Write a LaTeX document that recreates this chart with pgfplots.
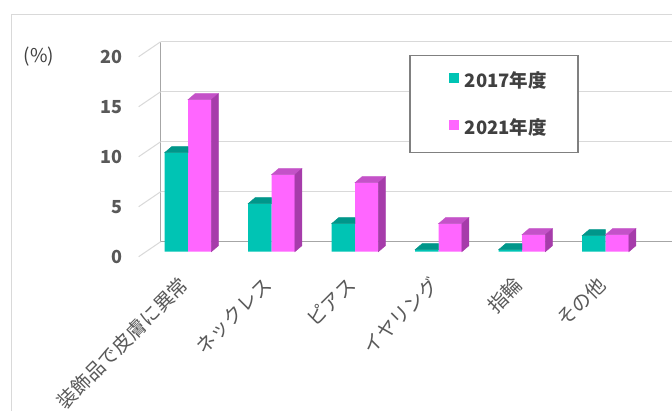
\documentclass[border=0pt]{standalone}
\usepackage{fontspec}
\setmainfont{Noto Sans CJK JP}
\usepackage{pgfplots}
\usepackage{pgfplotstable}
\pgfplotsset{compat=1.18}

\definecolor{c17}{HTML}{00C4B4}
\definecolor{c17top}{HTML}{00968A}
\definecolor{c21}{HTML}{FF66FF}
\definecolor{c21top}{HTML}{C452C8}
\definecolor{c21side}{HTML}{A63CAA}
\definecolor{gridc}{HTML}{D9D9D9}
\definecolor{wallc}{HTML}{A6A6A6}
\definecolor{txt}{HTML}{595959}
\definecolor{txtd}{HTML}{404040}

\pgfplotstableread{
x y17 y21
0 9.9 15.2
1 4.8 7.7
2 2.8 6.9
3 0.2 2.8
4 0.2 1.7
5 1.6 1.7
}\datatab

\pgfdeclareplotmark{nothing}{}
\newcommand\fs[1]{\fontsize{#1}{#1}\selectfont}

% top and side faces of the bars, drawn at the data point (group centre, bar top);
% meta 0..20 maps to 0..1000, bar height in pt = transformed/5
\pgfplotsset{
  faces17/.style={forget plot, scatter, only marks, mark=nothing, point meta=y,
    scatter/@pre marker code/.code={\scope
      \fill[c17top] (-23.4pt,0pt) -- (0pt,0pt) -- (0pt,6pt) -- (-16.4pt,6pt) -- cycle;},
    scatter/@post marker code/.code={\endscope}},
  faces21/.style={forget plot, scatter, only marks, mark=nothing, point meta=y,
    scatter/@pre marker code/.code={\scope
      \pgfmathsetmacro\barh{\pgfplotspointmetatransformed/5}
      \fill[c21top] (0pt,0pt) -- (23.4pt,0pt) -- (30.4pt,6pt) -- (7pt,6pt) -- cycle;
      \fill[c21side] (23.4pt,0pt) -- (23.4pt,-\barh pt) -- (30.4pt,6pt-\barh pt) -- (30.4pt,6pt) -- cycle;},
    scatter/@post marker code/.code={\endscope}},
  legsq/.style={legend image code/.code={\path (0pt,2pt);
      \fill[#1] (11pt,-2.5pt) rectangle (21pt,7.5pt);}},
}

\begin{document}
\begin{tikzpicture}[x=1pt,y=1pt]
\useasboundingbox (0,0) rectangle (672,411);
\clip (0,0) rectangle (672,411);
\fill[white] (0,0) rectangle (672,411);
\draw[gridc, line width=1pt] (11,0) -- (11,396) -- (672,396);
\node[font=\fs{19}, text=txtd] at (39,354) {(\%)};

% back wall with grid
\begin{axis}[at={(160.7pt,169.3pt)}, anchor=south west, scale only axis,
  width=520pt, height=200pt,
  xmin=0, xmax=1, ymin=0, ymax=20, xtick=\empty, ytick={0,5,...,20},
  axis lines*=left, axis line style={wallc, line width=1.2pt},
  ymajorgrids, grid style={gridc, line width=1.2pt},
  major tick length=0pt,
  /pgf/number format/assume math mode=true,
  yticklabel style={font=\fs{18}\bfseries, text=txt, inner sep=0pt, xshift=-38pt, yshift=-15pt},
]
\end{axis}
\foreach \k in {0,...,4}
  \draw[gridc, line width=1pt] (160.7,{169.3+50*\k}) -- ++(-22,-15);

% bars
\begin{axis}[at={(146.25pt,159.3pt)}, anchor=south west, scale only axis,
  width=501pt, height=200pt,
  xmin=-0.5, xmax=5.5, ymin=0, ymax=20, clip=false,
  point meta min=0, point meta max=20,
  axis line style={draw=none}, ytick=\empty, major tick length=0pt,
  xtick={0,...,5},
  xticklabels={装飾品で皮膚に異常,ネックレス,ピアス,イヤリング,指輪,その他},
  xticklabel style={font=\fs{19.5}, text=txt, xshift=-1pt, yshift=-27pt, rotate=45, anchor=east},
  legend style={at={(0.525,0.9835)}, anchor=north west, draw=gray, line width=1.3pt,
    fill=white, font=\fs{18.5}\bfseries, text=txtd, row sep=30pt,
    inner xsep=28pt, inner ysep=16pt, nodes={inner xsep=3pt, inner ysep=0pt},
    /tikz/every odd column/.append style={column sep=3pt}},
  legend cell align=left,
]
\addplot[ybar, bar width=23.4pt, bar shift=-11.7pt, fill=c17, draw=none, legsq=c17]
  table[x=x, y=y17] {\datatab};
\addlegendentry{2017年度}
\addplot[faces17] table[x=x, y=y17] {\datatab};
\addplot[ybar, bar width=23.4pt, bar shift=11.7pt, fill=c21, draw=none, legsq=c21]
  table[x=x, y=y21] {\datatab};
\addlegendentry{2021年度}
\addplot[faces21] table[x=x, y=y21] {\datatab};
\end{axis}
\end{tikzpicture}
\end{document}
